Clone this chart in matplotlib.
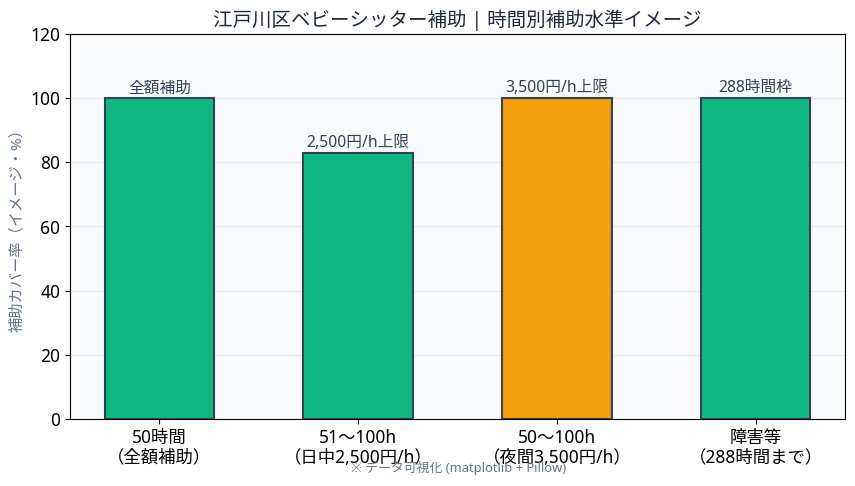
import matplotlib
matplotlib.use("Agg")
import matplotlib.pyplot as plt

plt.rcParams['font.family'] = ['Noto Sans', 'Noto Sans CJK JP', 'DejaVu Sans']

categories = ["50時間\n（全額補助）", "51〜100h\n（日中2,500円/h）", "50〜100h\n（夜間3,500円/h）", "障害等\n（288時間まで）"]
values = [100, 83, 100, 100]
labels = ["全額補助", "2,500円/h上限", "3,500円/h上限", "288時間枠"]
colors = ["#10b981", "#10b981", "#f59e0b", "#10b981"]

fig = plt.figure(figsize=(8.55, 4.86), dpi=100)
ax = fig.add_axes([70/855, 1-419/486, 775/855, 385/486])
ax.set_facecolor("#f8fafc")
x = range(len(categories))
ax.bar(x, values, width=0.55, color=colors, edgecolor="#334155", linewidth=1.5, zorder=3)
for xi, v, lab in zip(x, values, labels):
    ax.text(xi, v + 0.6, lab, ha="center", va="bottom", fontsize=11.3, color="#334155", zorder=4)
ax.set_xlim(-0.45, 3.45)
ax.set_ylim(0, 120)
ax.set_xticks(list(x))
ax.set_xticklabels(categories, fontsize=12.5, linespacing=1.15)
ax.tick_params(axis='y', labelsize=12.5)
ax.grid(axis='y', color="#e2e8f0", linewidth=0.8, zorder=0)
ax.set_ylabel("補助カバー率（イメージ・%）", color="#64748b", fontsize=11)
ax.set_title("江戸川区ベビーシッター補助 | 時間別補助水準イメージ", fontsize=14, color="#1e293b", pad=6)
fig.text(0.536, 0.037, "※ データ可視化 (matplotlib + Pillow)", ha="center", va="center", fontsize=9.3, color="#64748b")
fig.savefig("out.png", dpi=100)
